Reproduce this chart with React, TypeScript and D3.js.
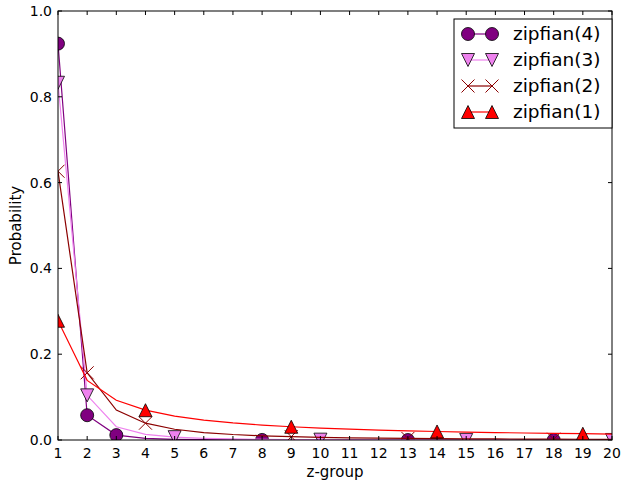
import React from "react";
import * as d3 from "d3";

// z-groups 1..20
const groups = d3.range(1, 21);

// Probability of each z-group under a truncated Zipf law with exponent s
const zipf4 = [0.92397, 0.05775, 0.01141, 0.00361, 0.00148, 0.000713, 0.000385, 0.000226, 0.000141, 0.0000924, 0.0000631, 0.0000446, 0.0000324, 0.0000241, 0.0000183, 0.0000141, 0.0000111, 0.0000088, 0.0000071, 0.0000058];
const zipf3 = [0.83273, 0.10409, 0.03084, 0.01301, 0.00666, 0.00386, 0.00243, 0.00163, 0.00114, 0.00083, 0.000625, 0.000482, 0.000379, 0.000303, 0.000246, 0.000203, 0.00017, 0.000142, 0.000122, 0.000104];
const zipf2 = [0.6265, 0.15662, 0.06961, 0.03916, 0.02506, 0.0174, 0.01279, 0.00979, 0.00773, 0.00627, 0.00518, 0.00435, 0.00371, 0.0032, 0.00278, 0.00245, 0.00217, 0.00193, 0.00174, 0.00157];
const zipf1 = [0.27795, 0.13898, 0.09265, 0.06949, 0.05559, 0.04633, 0.03971, 0.03474, 0.03088, 0.0278, 0.02527, 0.02316, 0.02138, 0.01985, 0.01853, 0.01737, 0.01635, 0.01544, 0.01463, 0.0139];

// z-groups that carry a marker, per series
const marks4 = [1, 2, 3, 8, 13, 18];
const marks3 = [1, 2, 5, 10, 15, 20];
const marks2 = [1, 2, 4, 9, 13, 18];
const marks1 = [1, 4, 9, 14, 19];

const seriesNames = ["zipfian(4)", "zipfian(3)", "zipfian(2)", "zipfian(1)"];
const yTicks = [0, 0.2, 0.4, 0.6, 0.8, 1.0];

type MarkerKind = "circle" | "tridown" | "x" | "triup";

const series = [
  { name: seriesNames[0], values: zipf4, marks: marks4, color: "#800080", marker: "circle" as MarkerKind },
  { name: seriesNames[1], values: zipf3, marks: marks3, color: "#ee82ee", marker: "tridown" as MarkerKind },
  { name: seriesNames[2], values: zipf2, marks: marks2, color: "#8b0000", marker: "x" as MarkerKind },
  { name: seriesNames[3], values: zipf1, marks: marks1, color: "#ff0000", marker: "triup" as MarkerKind },
];

const W = 621;
const H = 482;
const M = { left: 58, right: 612, top: 11, bottom: 440 };
const FONT = "DejaVu Sans, sans-serif";

function Marker({ kind, x, y, color }: { kind: MarkerKind; x: number; y: number; color: string }) {
  const r = 6.5;
  if (kind === "circle") return <circle cx={x} cy={y} r={r} fill={color} stroke="#000" strokeWidth={0.8} />;
  if (kind === "triup") {
    const p = `${x},${y - r} ${x - r},${y + r} ${x + r},${y + r}`;
    return <polygon points={p} fill={color} stroke="#000" strokeWidth={0.8} />;
  }
  if (kind === "tridown") {
    const p = `${x},${y + r} ${x - r},${y - r} ${x + r},${y - r}`;
    return <polygon points={p} fill={color} stroke="#000" strokeWidth={0.8} />;
  }
  return (
    <g stroke={color} strokeWidth={1}>
      <line x1={x - r} y1={y - r} x2={x + r} y2={y + r} />
      <line x1={x - r} y1={y + r} x2={x + r} y2={y - r} />
    </g>
  );
}

export default function App() {
  const x = d3.scaleLinear().domain([1, 20]).range([M.left, M.right]);
  const y = d3.scaleLinear().domain([0, 1]).range([M.bottom, M.top]);
  const line = d3
    .line<number>()
    .x((_, i) => x(groups[i]))
    .y((v) => y(v));

  return (
    <svg width={W} height={H} style={{ position: "absolute", left: 0, top: 0, background: "#fff" }} fontFamily={FONT}>
      <defs>
        <clipPath id="plotArea">
          <rect x={M.left} y={M.top} width={M.right - M.left} height={M.bottom - M.top} />
        </clipPath>
      </defs>
      <rect width={W} height={H} fill="#fff" />

      {/* series */}
      <g clipPath="url(#plotArea)">
        {series.map((s) => (
          <g key={s.name}>
            <path d={line(s.values) || ""} fill="none" stroke={s.color} strokeWidth={1.2} />
            {s.marks.map((g) => (
              <Marker key={g} kind={s.marker} x={x(g)} y={y(s.values[g - 1])} color={s.color} />
            ))}
          </g>
        ))}
      </g>

      {/* ticks */}
      {groups.map((g) => (
        <g key={"xt" + g}>
          <line x1={x(g)} x2={x(g)} y1={M.bottom} y2={M.bottom - 4} stroke="#000" />
          <line x1={x(g)} x2={x(g)} y1={M.top} y2={M.top + 4} stroke="#000" />
          <text x={x(g)} y={M.bottom + 18} textAnchor="middle" fontSize={14}>
            {g}
          </text>
        </g>
      ))}
      {yTicks.map((t) => (
        <g key={"yt" + t}>
          <line x1={M.left} x2={M.left + 4} y1={y(t)} y2={y(t)} stroke="#000" />
          <line x1={M.right} x2={M.right - 4} y1={y(t)} y2={y(t)} stroke="#000" />
          <text x={M.left - 6} y={y(t) + 5} textAnchor="end" fontSize={14}>
            {t.toFixed(1)}
          </text>
        </g>
      ))}

      <rect x={M.left} y={M.top} width={M.right - M.left} height={M.bottom - M.top} fill="none" stroke="#000" strokeWidth={1} />

      {/* axis labels */}
      <text x={(M.left + M.right) / 2} y={477} textAnchor="middle" fontSize={15}>
        z-group
      </text>
      <text transform={`translate(21,${(M.top + M.bottom) / 2}) rotate(-90)`} textAnchor="middle" fontSize={15}>
        Probability
      </text>

      {/* legend */}
      <g>
        <rect x={454} y={19} width={158} height={109} fill="#fff" stroke="#000" strokeWidth={1} />
        {series.map((s, i) => {
          const ly = 34 + i * 26;
          return (
            <g key={"lg" + s.name}>
              <line x1={468} x2={492} y1={ly} y2={ly} stroke={s.color} strokeWidth={1.2} />
              <Marker kind={s.marker} x={468} y={ly} color={s.color} />
              <Marker kind={s.marker} x={492} y={ly} color={s.color} />
              <text x={513} y={ly + 6} fontSize={18.5}>
                {s.name}
              </text>
            </g>
          );
        })}
      </g>
    </svg>
  );
}
